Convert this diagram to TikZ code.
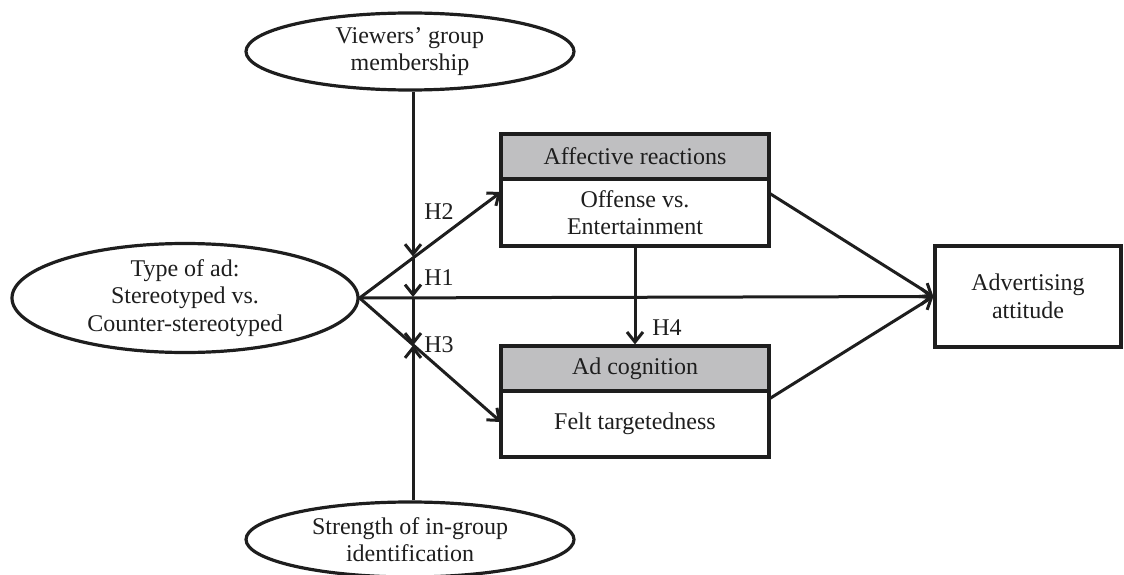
\documentclass[tikz,border=0pt]{standalone}
\usepackage{fontspec}
\setmainfont{Liberation Serif}
\usetikzlibrary{shapes.geometric,arrows.meta,calc}
\definecolor{hdrgray}{RGB}{191,191,193}
\definecolor{ink}{RGB}{30,30,30}
\begin{document}
\begin{tikzpicture}[x=1pt,y=-1pt,
  every node/.style={font=\fontsize{24}{27.5}\selectfont, align=center, inner sep=0pt, text=ink},
  oval/.style={ellipse, draw=ink, line width=3.2pt},
  hdr/.style={rectangle, draw=ink, line width=3.2pt, fill=hdrgray, minimum width=268, minimum height=45},
  body/.style={rectangle, draw=ink, line width=3.2pt, fill=white, minimum width=268},
  conn/.style={draw=ink, line width=3pt, -{Straight Barb[length=10pt,width=16pt,line width=3pt]}},
  lab/.style={font=\fontsize{24}{27}\selectfont}
]
\useasboundingbox (0,0) rectangle (1124,575);

% ellipses
\node[oval, minimum width=328, minimum height=77] (vm) at (410,51.5) {Viewers' group\\membership};
\node[oval, minimum width=346, minimum height=103] (ta) at (185,298) {Type of ad:\\Stereotyped vs.\\Counter-stereotyped};
\node[oval, minimum width=328, minimum height=75] (si) at (410,539.5) {Strength of in-group\\identification};

% boxes
\node[hdr] (afh) at (635,156.5) {Affective reactions};
\node[body, minimum height=67] (afb) at (635,212.5) {Offense vs.\\Entertainment};
\node[hdr] (ach) at (635,368.5) {Ad cognition};
\node[body, minimum height=66] (acb) at (635,424) {Felt targetedness};
\node[rectangle, draw=ink, line width=3.2pt, minimum width=186, minimum height=101] (aa) at (1028,296.5) {Advertising\\attitude};

% coordinates
\coordinate (h2end) at (501,192);
\coordinate (h3end) at (501,422);
\coordinate (afout) at (769,193);
\coordinate (acout) at (769,399);
\coordinate (c2) at (413,256.6);
\coordinate (c1) at (413,297);
\coordinate (c3) at (413,345.5);

% main arrows
\draw[conn] (ta.east) -- (h2end);
\draw[conn] (ta.east) -- (h3end);
\draw[conn] (ta.east) -- (aa.west);
\draw[conn] (afout) -- (aa.west);
\draw[conn] (acout) -- (aa.west);
\draw[conn] (afb.south) -- (ach.north);

% moderators
\draw[conn] (vm.south -| c2) -- (c2);
\draw[conn] (c2) -- (c1);
\draw[conn] (c1) -- (c3);
\draw[conn] (si.north -| c3) -- (c3);

% labels
\node[lab] (l2) at (439,212) {H2};
\node[lab] (l1) at (439,278) {H1};
\node[lab] (l3) at (439,345) {H3};
\node[lab] (l4) at (667,328) {H4};
\end{tikzpicture}
\end{document}
